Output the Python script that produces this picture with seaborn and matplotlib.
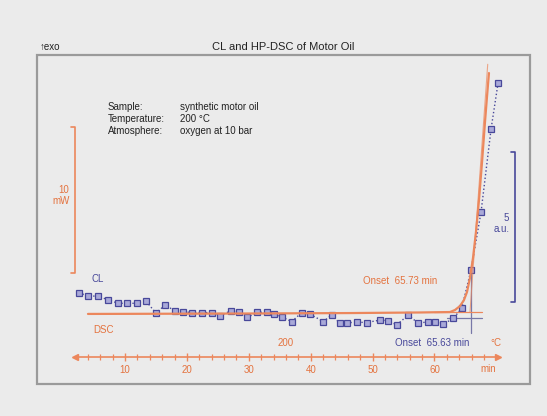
import numpy as np
import pandas as pd
import seaborn as sns
import matplotlib
matplotlib.use("Agg")
import matplotlib.pyplot as plt
from matplotlib.patches import Rectangle
from matplotlib.ticker import FixedLocator

# ---------------- data ----------------
cl_time = [2.57, 4.07, 5.69, 7.30, 8.92, 10.27, 11.89, 13.34, 15.00, 16.46,
           18.08, 19.42, 20.78, 22.39, 24.01, 25.35, 27.12, 28.42, 29.79, 31.32,
           32.89, 34.07, 35.32, 36.93, 38.55, 39.89, 42.04, 43.39, 44.73, 45.82,
           47.43, 49.05, 51.20, 52.54, 53.89, 55.77, 57.38, 59.00, 60.08, 61.42,
           63.04, 64.39, 65.90, 67.52, 69.14, 70.27]
cl_value = [1.24, 1.13, 1.13, 1.00, 0.89, 0.89, 0.89, 0.98, 0.56, 0.83,
            0.64, 0.61, 0.58, 0.58, 0.58, 0.48, 0.64, 0.59, 0.42, 0.59,
            0.59, 0.54, 0.44, 0.28, 0.58, 0.53, 0.28, 0.50, 0.22, 0.24,
            0.26, 0.25, 0.33, 0.31, 0.17, 0.50, 0.22, 0.28, 0.26, 0.19,
            0.39, 0.72, 2.00, 3.93, 6.70, 8.23]

dsc_time = [4.02, 14.04, 30.19, 46.35, 57.66, 62.50, 63.31, 64.12, 64.76, 65.25,
            65.73, 66.22, 66.70, 67.19, 67.67, 68.16, 68.48, 68.80]
dsc_mw = [1.10, 1.11, 1.13, 1.16, 1.20, 1.23, 1.37, 1.64, 2.05, 2.60,
          3.56, 4.93, 6.71, 8.90, 11.44, 14.25, 15.96, 17.60]

onset_dsc = 65.73
onset_cl = 65.63
x_major = [10, 20, 30, 40, 50, 60]
x_minor = list(range(4, 70, 2))

title = "CL and HP-DSC of Motor Oil"
info_keys = ["Sample:", "Temperature:", "Atmosphere:"]
info_vals = ["synthetic motor oil", "200 °C", "oxygen at 10 bar"]

# ---------------- style ----------------
sns.set_theme(style="white")
plt.rcParams["font.family"] = ["Liberation Sans", "DejaVu Sans"]

BG = "#ebebeb"
ORANGE = "#ec875c"
ORANGE_T = "#e4733f"
BLUE = "#48489a"
BLUE_FILL = "#a9a9d8"
GRAY = "#9a9a9a"

fig = plt.figure(figsize=(5.47, 4.16), dpi=100, facecolor=BG)
W, H = 547, 416
L, R, T, B = 37, 530, 55, 384
ax = fig.add_axes([L / W, 1 - B / H, (R - L) / W, (B - T) / H])
ax.set_facecolor(BG)
ax2 = ax.twinx()

ax.set_xlim(-4.216, 75.43)
ax.set_ylim(-1.8, 9.1667)
ax2.set_ylim(-3.699, 18.836)

# frame
fig.add_artist(Rectangle((L / W, 1 - B / H), (R - L) / W, (B - T) / H,
                         transform=fig.transFigure, fill=False,
                         edgecolor=GRAY, lw=1.6))

# ---------------- DSC ----------------
dsc_df = pd.DataFrame({"t": dsc_time, "mw": dsc_mw})
sns.lineplot(data=dsc_df, x="t", y="mw", ax=ax2, color=ORANGE, lw=1.6,
             sort=False, estimator=None)
base_dsc = dsc_mw[4]
ax2.plot([60, 67.6], [base_dsc, base_dsc], color=ORANGE, lw=0.9)
ax2.plot([onset_dsc, dsc_time[-1] - 0.2], [base_dsc, dsc_mw[-1] + 0.6],
         color=ORANGE, lw=0.8, alpha=0.7)

# ---------------- CL ----------------
cl_df = pd.DataFrame({"t": cl_time, "cl": cl_value})
sns.lineplot(data=cl_df, x="t", y="cl", ax=ax, color=BLUE, lw=1.0,
             linestyle=":", marker="s", markersize=4.0, mfc=BLUE_FILL,
             mec=BLUE, mew=0.9, sort=False, estimator=None, zorder=5)
base_cl = 0.4
ax.plot([62.0, 67.6], [base_cl, base_cl], color="#7878a8", lw=0.9)
ax.plot([onset_cl + 0.2, onset_cl + 0.2], [-0.1, 2.0], color="#7878a8", lw=0.9)

# ---------------- x axis (orange, inside frame) ----------------
for s in ["top", "left", "right"]:
    ax.spines[s].set_visible(False)
    ax2.spines[s].set_visible(False)
ax2.spines["bottom"].set_visible(False)
ax.spines["bottom"].set_position(("data", -0.9))
ax.spines["bottom"].set_bounds(1.93, 70.2)
ax.spines["bottom"].set_color(ORANGE)
ax.spines["bottom"].set_linewidth(1.2)
ax.xaxis.set_major_locator(FixedLocator(x_major))
ax.xaxis.set_minor_locator(FixedLocator(x_minor))
ax.set_xticklabels([str(v) for v in x_major])
ax.tick_params(axis="x", which="both", bottom=True, top=False)
ax.tick_params(axis="x", which="major", direction="inout", length=6,
               width=1.0, color=ORANGE, labelcolor=ORANGE_T, labelsize=7, pad=3)
ax.tick_params(axis="x", which="minor", direction="inout", length=5,
               width=0.9, color=ORANGE)
ax.set_yticks([])
ax2.set_yticks([])
ax2.tick_params(axis="x", which="both", bottom=False, top=False)
ax.set_xlabel("")
ax.set_ylabel("")
ax2.set_ylabel("")
ax.plot([1.93], [-0.9], marker="<", markersize=4, color=ORANGE, clip_on=False)
ax.plot([70.2], [-0.9], marker=">", markersize=4, color=ORANGE, clip_on=False)
ax.text(68.6, -1.3, "min", color=ORANGE_T, fontsize=7, ha="center", va="center")
ax.text(35.9, -0.43, "200", color=ORANGE_T, fontsize=7, ha="center", va="center")
ax.text(69.9, -0.43, "°C", color=ORANGE_T, fontsize=7, ha="center", va="center")

# ---------------- scale bars ----------------
ax2.plot([1.3, 1.93, 1.93, 1.3], [13.9, 13.9, 3.9, 3.9], color=ORANGE, lw=1.2)
ax2.text(1.0, 9.2, "10\nmW", color=ORANGE_T, fontsize=7, ha="right",
         va="center", linespacing=1.1)
ax.plot([72.4, 73.0, 73.0, 72.4], [5.93, 5.93, 0.93, 0.93], color=BLUE, lw=1.2)
ax.text(72.1, 3.55, "5\na.u.", color=BLUE, fontsize=7, ha="right",
        va="center", linespacing=1.2)

# ---------------- labels ----------------
ax.text(5.65, 1.7, "CL", color=BLUE, fontsize=7, ha="center", va="center")
ax2.text(6.6, 0.0, "DSC", color=ORANGE_T, fontsize=7, ha="center", va="center")
ax.text(54.4, 1.63, "Onset  65.73 min", color=ORANGE_T, fontsize=7,
        ha="center", va="center")
ax.text(59.6, -0.43, "Onset  65.63 min", color=BLUE, fontsize=7,
        ha="center", va="center")

# info block
for i, (k, v) in enumerate(zip(info_keys, info_vals)):
    yy = 1 - (107 + i * 12) / H
    fig.text(108 / W, yy, k, fontsize=7, color="#222222", ha="left", va="center")
    fig.text(180 / W, yy, v, fontsize=7, color="#222222", ha="left", va="center")

fig.text(283 / W, 1 - 47 / H, title, fontsize=8, color="#222222",
         ha="center", va="center")
fig.text(40 / W, 1 - 47 / H, "↑exo", fontsize=7, color="#222222",
         ha="left", va="center")

fig.savefig("out.png", dpi=100, facecolor=BG)
